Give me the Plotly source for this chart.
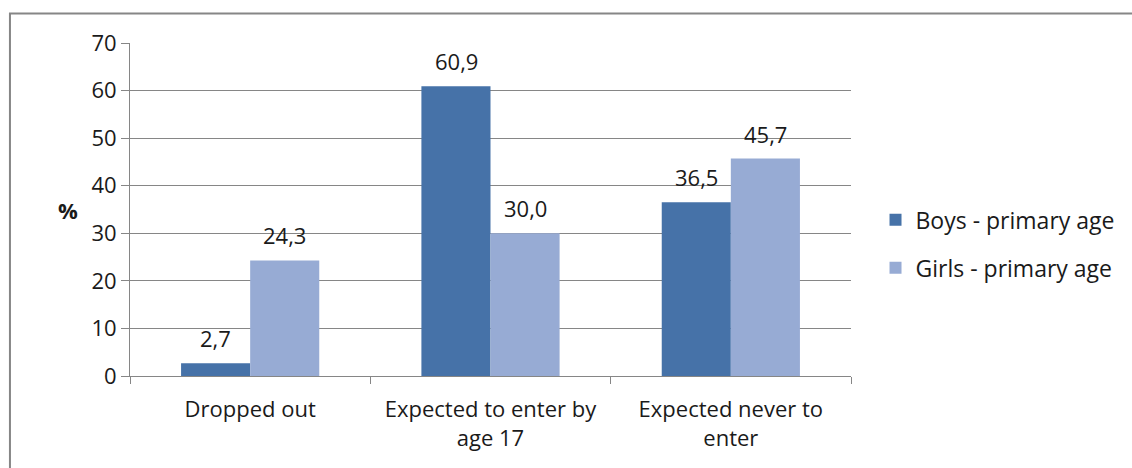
import plotly.graph_objects as go

categories = ["Dropped out", "Expected to enter by<br>age 17", "Expected never to<br>enter"]
boys = [2.7, 60.9, 36.5]
girls = [24.3, 30.0, 45.7]
boys_labels = ["2,7", "60,9", "36,5"]
girls_labels = ["24,3", "30,0", "45,7"]

FONT = "Open Sans, sans-serif"
GRID = "#868686"
FS = 22

fig = go.Figure()
fig.add_trace(go.Bar(x=categories, y=boys, name="Boys - primary age",
                     marker=dict(color="#4672A8", line=dict(width=0)),
                     legendgroup="b"))
fig.add_trace(go.Bar(x=categories, y=girls, name="Girls - primary age",
                     marker=dict(color="#97ABD4", line=dict(width=0)),
                     legendgroup="g"))

annotations = [dict(text="<b>%</b>", x=-0.102, y=0.5, xref="paper", yref="paper",
                    showarrow=False, font=dict(size=FS))]
for cat, v, lab in zip(categories, boys, boys_labels):
    annotations.append(dict(x=cat, y=v, text=lab, showarrow=False, xshift=-34.5,
                            yanchor="bottom", yshift=8, font=dict(size=FS)))
for cat, v, lab in zip(categories, girls, girls_labels):
    annotations.append(dict(x=cat, y=v, text=lab, showarrow=False, xshift=34.5,
                            yanchor="bottom", yshift=8, font=dict(size=FS)))

fig.update_layout(
    width=1132, height=468,
    margin=dict(l=130, r=281, t=43, b=92, autoexpand=False),
    paper_bgcolor="white", plot_bgcolor="white",
    font=dict(family=FONT, size=FS, color="#1a1a1a"),
    barmode="group", bargap=0.425, bargroupgap=0,
    showlegend=True,
    legend=dict(x=1.034, y=0.397, xanchor="left", yanchor="middle",
                font=dict(size=23), tracegroupgap=15, itemwidth=30),
    annotations=annotations,
    shapes=[dict(type="rect", xref="paper", yref="paper",
                 x0=-0.1665, x1=1.6, y0=-0.5, y1=1.0885,
                 line=dict(color="#868686", width=2), fillcolor="rgba(0,0,0,0)", layer="below")],
)
fig.update_yaxes(range=[0, 70], dtick=10, showgrid=True, gridcolor=GRID, gridwidth=1,
                 showline=True, linecolor=GRID, linewidth=1, automargin=False,
                 ticks="outside", ticklen=8, tickcolor=GRID, zeroline=False,
                 tickfont=dict(size=FS))
fig.update_xaxes(showline=True, linecolor=GRID, linewidth=1, automargin=False,
                 ticks="outside", tickson="boundaries", ticklen=7, tickcolor=GRID,
                 ticklabelstandoff=14,
                 tickfont=dict(size=FS), showgrid=False)

fig.write_html("out.html", config={"displayModeBar": False},
               post_script="document.body.style.margin='0';")
